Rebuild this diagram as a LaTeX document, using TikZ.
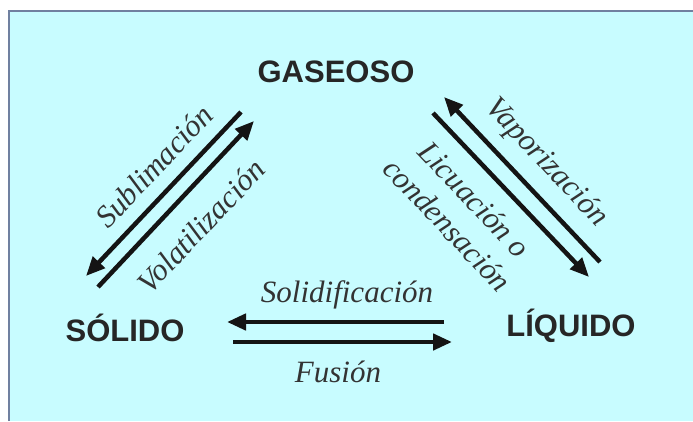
\documentclass[tikz,border=0pt]{standalone}
\usepackage{fontspec}
\setmainfont{Liberation Serif}
\setsansfont{Liberation Sans}
\usetikzlibrary{arrows.meta, positioning}
\definecolor{panel}{HTML}{C8FCFF}
\definecolor{rim}{HTML}{7080A0}
\tikzstyle{phase}=[font=\sffamily\bfseries\fontsize{31}{35}\selectfont,
                   text=black!85, inner sep=0pt]
\tikzstyle{change}=[font=\itshape\fontsize{31}{37}\selectfont,
                    text=black!80, inner sep=0pt, align=center]
\tikzstyle{arrow}=[-{Triangle[length=19pt,width=16pt]}, line width=4.5pt, color=black!92]

\begin{document}
\begin{tikzpicture}[x=1pt, y=-1pt]
  \useasboundingbox (0,0) rectangle (693,421);
  % Panel
  \fill[panel] (8,10) rectangle (693,421);
  \draw[rim, line width=2pt] (9,421) -- (9,11) -- (693,11);

  % Phases
  \node[phase] (gas) at (336,72) {GASEOSO};
  \node[phase] (sol) at (125,328) {SÓLIDO};
  \node[phase] (liq) at (571,326) {LÍQUIDO};

  % Arrow ends
  \coordinate (subA) at (241,112);  \coordinate (subB) at (86,276);
  \coordinate (volA) at (98,287);   \coordinate (volB) at (254,121);
  \coordinate (vapA) at (600,262);  \coordinate (vapB) at (444,97);
  \coordinate (licA) at (433,113);  \coordinate (licB) at (589,277);
  \coordinate (solA) at (444,322);  \coordinate (solB) at (227,322);
  \coordinate (fusA) at (233,342);  \coordinate (fusB) at (452,342);

  % Arrows
  \draw[arrow] (subA) -- (subB);
  \draw[arrow] (volA) -- (volB);
  \draw[arrow] (vapA) -- (vapB);
  \draw[arrow] (licA) -- (licB);
  \draw[arrow] (solA) -- (solB);
  \draw[arrow] (fusA) -- (fusB);

  % Labels
  \node[change, rotate=46.6] (sub) at (154,166) {Sublimación};
  \node[change, rotate=46.6] (vol) at (201,226) {Volatilización};
  \node[change, rotate=-46.6] (vap) at (546,163) {Vaporización};
  \node[change, rotate=-46.6] (lic) at (461,212) {Licuación o\\condensación};
  \node[change] (sld) at (347,295) {Solidificación};
  \node[change] (fus) at (338,372) {Fusión};
\end{tikzpicture}
\end{document}
